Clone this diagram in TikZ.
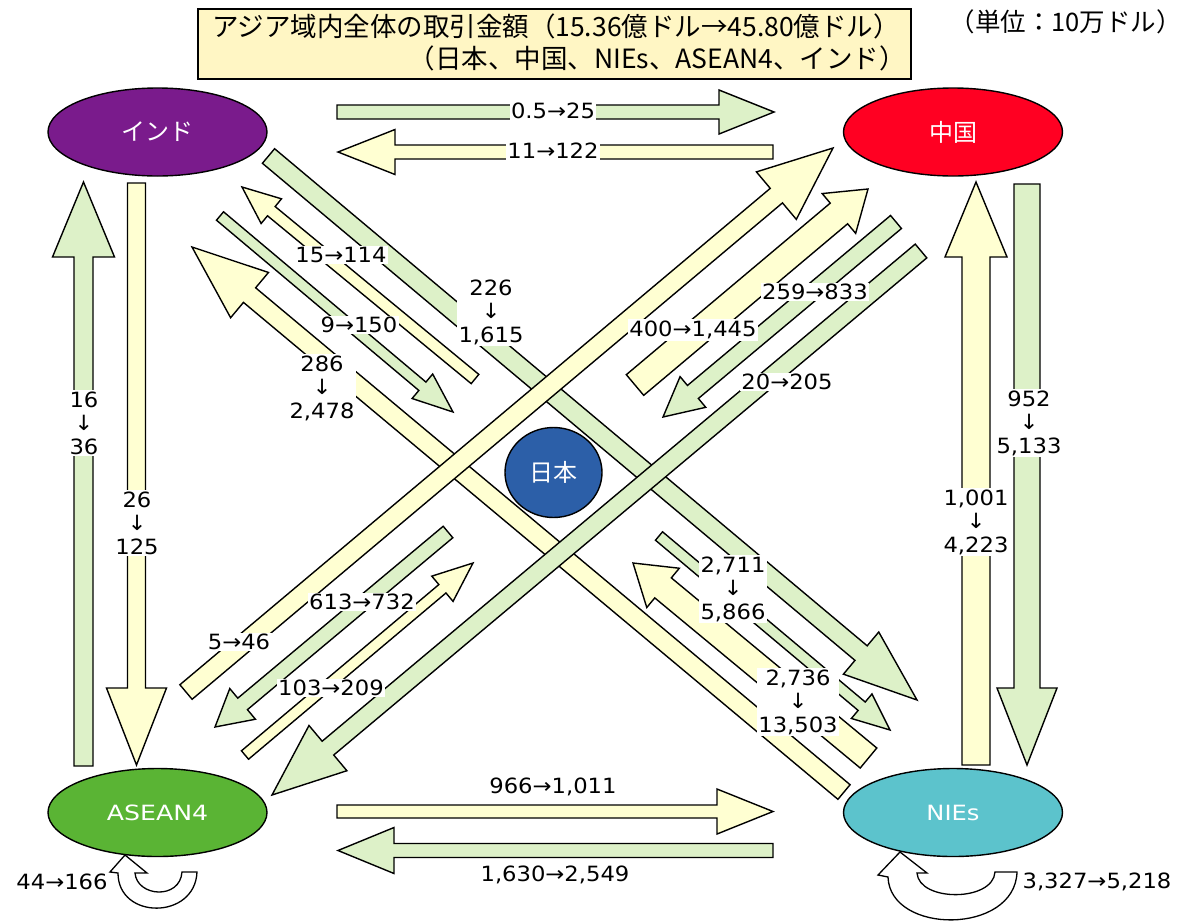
\documentclass[tikz,border=0pt]{standalone}
\usepackage{graphicx}
\usepackage{fontspec}
\setmainfont{DejaVu Sans}
\newfontfamily\jp{Noto Sans CJK JP}
\usetikzlibrary{calc,shapes.geometric}
\definecolor{ayel}{RGB}{255,255,210}
\definecolor{agrn}{RGB}{221,241,200}
\definecolor{tboxc}{RGB}{255,246,196}
\definecolor{cind}{RGB}{122,27,140}
\definecolor{cchn}{RGB}{255,0,34}
\definecolor{casn}{RGB}{90,180,52}
\definecolor{cnie}{RGB}{92,195,204}
\definecolor{cjpn}{RGB}{44,95,168}
\newcommand\lblfont{\fontsize{21}{23.5}\selectfont}
\newcommand\sx[1]{\scalebox{1.08}[1]{#1}}
% block arrow: style, tail, tip, shaft width, head width, head length
\newcommand\blockarr[6]{%
  \pgfmathsetmacro\bw{#4/2}\pgfmathsetmacro\bh{#5/2}%
  \coordinate (bB) at ($(#3)!#6pt!(#2)$);
  \draw[#1] ($(#2)!\bw pt!90:(#3)$) -- ($(bB)!\bw pt!90:(#3)$) -- ($(bB)!\bh pt!90:(#3)$) -- (#3)
     -- ($(bB)!\bh pt!-90:(#3)$) -- ($(bB)!\bw pt!-90:(#3)$) -- ($(#2)!\bw pt!-90:(#3)$) -- cycle;
}
\begin{document}
\begin{tikzpicture}[x=1pt,y=-1pt,
  yarr/.style={fill=ayel, draw=black, line width=1.4pt},
  garr/.style={fill=agrn, draw=black, line width=1.4pt},
  lbl/.style={fill=white, inner sep=1.5pt, font=\lblfont, align=center},
  country/.style={ellipse, draw=black, line width=1.4pt, inner sep=0pt, text=white, minimum width=219pt, minimum height=88pt},
  loopar/.style={fill=white, draw=black, line width=1.3pt}]
\fill[white] (0,0) rectangle (1180,921);
\useasboundingbox (0,0) rectangle (1180,921);

% title
\node[draw=black, line width=1.6pt, fill=tboxc, minimum width=713pt, minimum height=70pt, anchor=north west, inner sep=0pt] (tbox) at (197,8) {};
\node[font=\jp\fontsize{26.5}{30}\selectfont, inner sep=0pt] (t1) at (556,26) {アジア域内全体の取引金額（15.36億ドル→45.80億ドル）};
\node[font=\jp\fontsize{26.5}{30}\selectfont, inner sep=0pt, anchor=east] (t2) at (906,58) {（日本、中国、NIEs、ASEAN4、インド）};
\node[font=\jp\fontsize{25.5}{30}\selectfont, inner sep=0pt, anchor=east] (unit) at (1182,22) {（単位：10万ドル）};

% coordinates
\coordinate (ic-t) at (337,112);   \coordinate (ic-p) at (774,112);
\coordinate (ci-t) at (773,152);   \coordinate (ci-p) at (338,152);
\coordinate (an-t) at (337,811.5); \coordinate (an-p) at (773,811.5);
\coordinate (na-t) at (773,850.5); \coordinate (na-p) at (338,850.5);
\coordinate (ai-t) at (83.5,766);  \coordinate (ai-p) at (83.5,182);
\coordinate (ia-t) at (136.5,183); \coordinate (ia-p) at (136.5,765);
\coordinate (nc-t) at (976,765);   \coordinate (nc-p) at (976,182);
\coordinate (cn-t) at (1027,184);  \coordinate (cn-p) at (1027,765);
\coordinate (ni-t) at (844,792);   \coordinate (ni-p) at (192,247);
\coordinate (in-t) at (268.5,156); \coordinate (in-p) at (917,700);
\coordinate (ac-t) at (186,692);   \coordinate (ac-p) at (833,148);
\coordinate (ca-t) at (921,251);   \coordinate (ca-p) at (272,795);
\coordinate (ji-t) at (475,379);   \coordinate (ji-p) at (242,187);
\coordinate (ij-t) at (220,216);   \coordinate (ij-p) at (453,412);
\coordinate (jc-t) at (635,385);   \coordinate (jc-p) at (868,189);
\coordinate (cj-t) at (896,222);   \coordinate (cj-p) at (663,417);
\coordinate (ja-t) at (448,532);   \coordinate (ja-p) at (215,727);
\coordinate (aj-t) at (245,755);   \coordinate (aj-p) at (473,563);
\coordinate (jn-t) at (659,536);   \coordinate (jn-p) at (890,730);
\coordinate (nj-t) at (868.5,758); \coordinate (nj-p) at (633,563);

% horizontal / vertical
\blockarr{garr}{ic-t}{ic-p}{14}{44}{55}
\blockarr{yarr}{ci-t}{ci-p}{14}{45}{57}
\blockarr{yarr}{an-t}{an-p}{13}{45}{56}
\blockarr{garr}{na-t}{na-p}{14}{46}{56}
\blockarr{garr}{ai-t}{ai-p}{19}{62}{75}
\blockarr{yarr}{ia-t}{ia-p}{18}{60}{77}
\blockarr{yarr}{nc-t}{nc-p}{28}{62}{75}
\blockarr{garr}{cn-t}{cn-p}{26}{60}{77}
% long diagonals
\blockarr{yarr}{ni-t}{ni-p}{19}{59}{75}
\blockarr{garr}{in-t}{in-p}{19}{55}{73}
\blockarr{yarr}{ac-t}{ac-p}{19}{62}{74}
\blockarr{garr}{ca-t}{ca-p}{18}{59}{73}
% Japan arrows
\blockarr{yarr}{ji-t}{ji-p}{12}{32}{38}
\blockarr{garr}{ij-t}{ij-p}{11}{32}{40}
\blockarr{yarr}{jc-t}{jc-p}{27}{52}{38}
\blockarr{garr}{cj-t}{cj-p}{17}{40}{39}
\blockarr{garr}{ja-t}{ja-p}{15}{40}{36}
\blockarr{yarr}{aj-t}{aj-p}{11}{33}{40}
\blockarr{garr}{jn-t}{jn-p}{11}{32}{37}
\blockarr{yarr}{nj-t}{nj-p}{26}{51}{39}

% self loops
\draw[loopar] (125,855) -- (147,873) -- (135,873) .. controls (137,897) and (180,900) .. (182,872) -- (197,872)
   .. controls (195,920) and (118,920) .. (118,873) -- (110,872) -- cycle;
\draw[loopar] (900,852) -- (927,873) -- (917,873) .. controls (919,902) and (993,902) .. (995,872) -- (1017,872)
   .. controls (1015,935) and (890,935) .. (888,877) -- (878,875) -- cycle;

% country nodes
\node[country, fill=cind, font=\jp\fontsize{24}{28}\selectfont] (ind) at (157.5,132) {インド};
\node[country, fill=cchn, font=\jp\fontsize{24}{28}\selectfont] (chn) at (953,132) {中国};
\node[country, fill=casn, font=\lblfont] (asn) at (157.5,812.5) {\scalebox{1.2}[1]{ASEAN4}};
\node[country, fill=cnie, font=\lblfont] (nie) at (953,812.5) {\scalebox{1.15}[1]{NIEs}};
\node[country, fill=cjpn, minimum width=97pt, minimum height=90pt, font=\jp\fontsize{24}{28}\selectfont] (jpn) at (553.5,472.5) {日本};

% labels
\node[lbl] (l-ic) at (553,111) {\sx{0.5→25}};
\node[lbl] (l-ci) at (553,151) {\sx{11→122}};
\node[lbl] (l-an) at (553,787) {\sx{966→1,011}};
\node[lbl] (l-na) at (555,875) {\sx{1,630→2,549}};
\node[lbl] (l-ai) at (84,423) {\sx{16}\\\sx{↓}\\\sx{36}};
\node[lbl] (l-ia) at (137,523) {\sx{26}\\\sx{↓}\\\sx{125}};
\node[lbl] (l-cn) at (1029,423) {\sx{952}\\\sx{↓}\\\sx{5,133}};
\node[lbl] (l-nc) at (976,522) {\sx{1,001}\\\sx{↓}\\\sx{4,223}};
\node[lbl] (l-ji) at (341,255) {\sx{15→114}};
\node[lbl] (l-ij) at (359,325) {\sx{9→150}};
\node[lbl] (l-ni) at (322,388) {\sx{286}\\\sx{↓}\\\sx{2,478}};
\node[lbl] (l-in) at (491,312) {\sx{226}\\\sx{↓}\\\sx{1,615}};
\node[lbl] (l-jc) at (693,330) {\sx{400→1,445}};
\node[lbl] (l-cj) at (815,292) {\sx{259→833}};
\node[lbl] (l-ca) at (787,382) {\sx{20→205}};
\node[lbl] (l-ja) at (362,602) {\sx{613→732}};
\node[lbl] (l-ac) at (239,642) {\sx{5→46}};
\node[lbl] (l-aj) at (331,688) {\sx{103→209}};
\node[lbl] (l-jn) at (733,589) {\sx{2,711}\\\sx{↓}\\\sx{5,866}};
\node[lbl] (l-nj) at (798,702) {\sx{2,736}\\\sx{↓}\\\sx{13,503}};
\node[lbl, fill=none] (l-aa) at (62,882) {\sx{44→166}};
\node[lbl, fill=none] (l-nn) at (1097,882) {\sx{3,327→5,218}};
\end{tikzpicture}
\end{document}
